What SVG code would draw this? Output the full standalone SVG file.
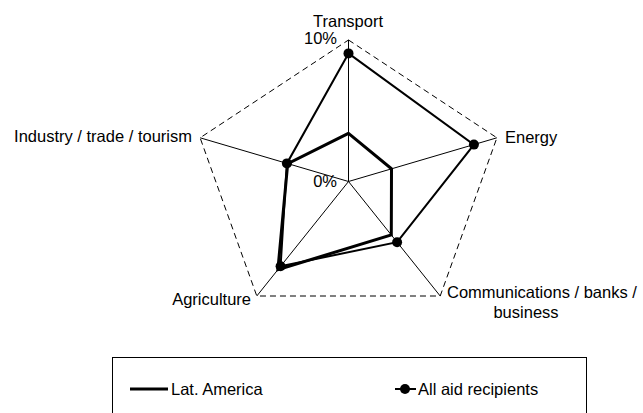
<svg xmlns="http://www.w3.org/2000/svg" width="643" height="413" viewBox="0 0 643 413">
<style>
text{font-family:"Liberation Sans",Arial,sans-serif;font-size:16.5px;fill:#000}
.spoke{stroke:#000;stroke-width:1;fill:none}
.grid{stroke:#000;stroke-width:1;fill:none;stroke-dasharray:6,4}
.lat{stroke:#000;stroke-width:3;fill:none;stroke-linejoin:miter}
.all{stroke:#000;stroke-width:2;fill:none}
</style>
<rect width="643" height="413" fill="#fff"/>
<g id="grid">
<polygon class="grid" points="348.5,40 496.9,137.8 440.2,296 256.8,296 200.1,137.8"/>
</g>
<g id="connectors">
<line class="spoke" x1="348.5" y1="181.5" x2="348.5" y2="40"/>
<line class="spoke" x1="348.5" y1="181.5" x2="496.9" y2="137.8"/>
<line class="spoke" x1="348.5" y1="181.5" x2="440.2" y2="296"/>
<line class="spoke" x1="348.5" y1="181.5" x2="256.8" y2="296"/>
<line class="spoke" x1="348.5" y1="181.5" x2="200.1" y2="137.8"/>
</g>
<g id="series-lat-america">
<polygon class="lat" points="348.5,133.4 391.5,168.8 391.3,235 277.9,269.6 287.7,163.6"/>
</g>
<g id="series-all-aid">
<polygon class="all" points="348.5,53.4 473.9,144.6 397.1,242.2 280.6,266.2 286.9,163.4"/>
<circle cx="348.5" cy="53.4" r="5"/>
<circle cx="473.9" cy="144.6" r="5"/>
<circle cx="397.1" cy="242.2" r="5"/>
<circle cx="280.6" cy="266.2" r="5"/>
<circle cx="286.9" cy="163.4" r="5"/>
</g>
<g id="labels">
<text x="348" y="27" text-anchor="middle">Transport</text>
<text x="337" y="44" text-anchor="end">10%</text>
<text x="337" y="187" text-anchor="end">0%</text>
<text x="505" y="143">Energy</text>
<text x="192" y="142" text-anchor="end">Industry / trade / tourism</text>
<text x="251" y="305" text-anchor="end">Agriculture</text>
<text x="447" y="298">Communications / banks /</text>
<text x="526" y="318" text-anchor="middle">business</text>
</g>
<g id="legend">
<rect x="112.5" y="357.5" width="474" height="60" fill="none" stroke="#000" stroke-width="1"/>
<line x1="130" y1="389" x2="168" y2="389" stroke="#000" stroke-width="3"/>
<text x="171" y="395">Lat. America</text>
<line x1="395" y1="389" x2="416" y2="389" stroke="#000" stroke-width="2"/>
<circle cx="405" cy="389" r="5"/>
<text x="418" y="395">All aid recipients</text>
</g>
</svg>
